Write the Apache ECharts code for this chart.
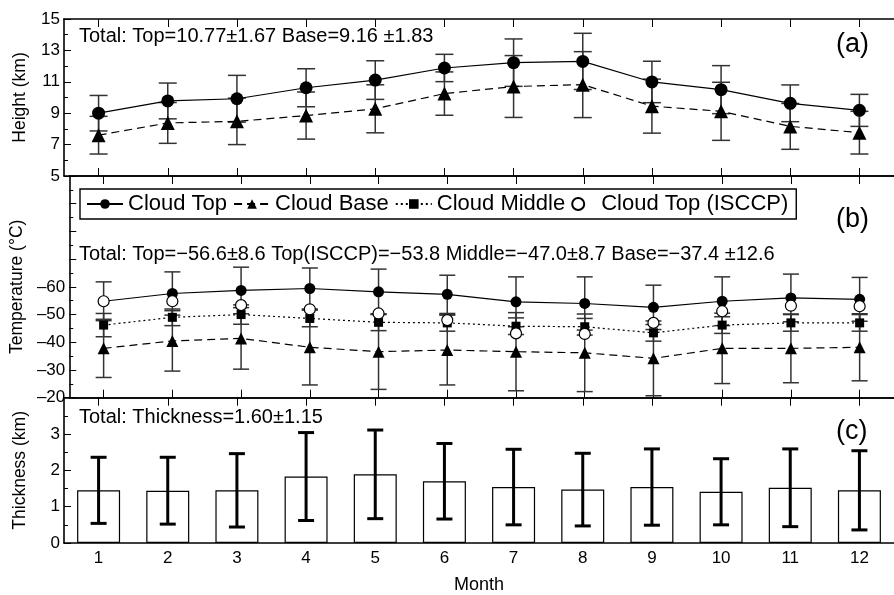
<!DOCTYPE html>
<html>
<head>
<meta charset="utf-8">
<style>
  html, body { margin: 0; padding: 0; background: #fff; }
  #main { width: 894px; height: 595px; }
</style>
<script src="https://cdn.jsdelivr.net/npm/echarts@6/dist/echarts.min.js"></script>
</head>
<body>
<div id="main"></div>
<script>
// months
var months = ["1", "2", "3", "4", "5", "6", "7", "8", "9", "10", "11", "12"];

// (a) height, km
var topH = [9.0, 9.78, 9.92, 10.62, 11.11, 11.88, 12.22, 12.3, 10.99, 10.5, 9.63, 9.18];
var topHErr = [1.13, 1.14, 1.49, 1.21, 1.23, 0.87, 1.51, 1.79, 1.32, 1.53, 1.17, 1.02];
var baseH = [7.6, 8.38, 8.48, 8.85, 9.28, 10.25, 10.7, 10.82, 9.45, 9.12, 8.16, 7.76];
var baseHErr = [1.2, 1.3, 1.48, 1.5, 1.53, 1.38, 1.97, 2.1, 1.72, 1.85, 1.46, 1.36];

// (b) temperature, °C
var topT = [-54.8, -57.6, -58.7, -59.4, -58.2, -57.3, -54.6, -54.0, -52.6, -54.8, -56.0, -55.5];
var topTErr = [7.0, 7.8, 8.4, 7.4, 8.2, 6.9, 9.0, 9.6, 8.0, 8.8, 8.6, 7.9];
var isccpT = [-54.8, -54.8, -53.4, -51.9, -50.4, -48.0, -43.2, -43.0, -47.0, -51.2, -53.2, -53.0];
var midT = [-46.2, -49.0, -50.0, -48.6, -47.2, -47.0, -45.8, -45.6, -43.4, -46.2, -47.0, -47.0];
var midTErr = [4.2, 3.0, 3.5, 3.0, 3.0, 3.0, 3.0, 3.0, 3.0, 3.0, 3.0, 3.0];
var baseT = [-37.8, -40.5, -41.4, -38.2, -36.6, -37.2, -36.6, -36.2, -34.2, -37.8, -37.8, -38.2];
var baseTErr = [10.5, 10.9, 11.1, 13.6, 13.6, 12.6, 14.1, 14.0, 13.5, 12.7, 12.4, 12.1];

// (c) thickness, km
var thick = [1.45, 1.44, 1.45, 1.83, 1.89, 1.70, 1.54, 1.47, 1.54, 1.41, 1.52, 1.45];
var thickErr = [0.91, 0.92, 1.01, 1.21, 1.22, 1.04, 1.04, 1.0, 1.05, 0.91, 1.07, 1.09];

var FONT = "'Liberation Sans', Arial, sans-serif";

var chart = echarts.init(document.getElementById("main"));

function errData(vals, errs) {
  return vals.map(function (v, i) {
    return [i, v - errs[i], v + errs[i]];
  });
}

// error bar with caps
function errSeries(data, xi, yi, capW, lw, color) {
  return {
    type: "custom",
    xAxisIndex: xi,
    yAxisIndex: yi,
    z: 1,
    silent: true,
    encode: { x: 0, y: [1, 2] },
    data: data,
    renderItem: function (params, api) {
      var lo = api.coord([api.value(0), api.value(1)]);
      var hi = api.coord([api.value(0), api.value(2)]);
      var h = capW / 2;
      var st = { stroke: color, lineWidth: lw };
      return {
        type: "group",
        children: [
          { type: "line", shape: { x1: lo[0], y1: lo[1], x2: hi[0], y2: hi[1] }, style: st },
          { type: "line", shape: { x1: lo[0] - h, y1: lo[1], x2: lo[0] + h, y2: lo[1] }, style: st },
          { type: "line", shape: { x1: hi[0] - h, y1: hi[1], x2: hi[0] + h, y2: hi[1] }, style: st }
        ]
      };
    }
  };
}

function xAx(gi, pos, showLabel) {
  return {
    type: "category",
    gridIndex: gi,
    position: pos,
    data: months,
    boundaryGap: true,
    axisLine: { show: true, lineStyle: { color: "#000", width: 1.6 } },
    axisTick: { show: true, inside: true, alignWithLabel: true, length: 8, lineStyle: { color: "#000", width: 1 } },
    axisLabel: { show: showLabel, color: "#000", fontSize: 17, fontFamily: FONT, margin: 7 },
    splitLine: { show: false }
  };
}

function yAx(gi, opt) {
  var base = {
    type: "value",
    gridIndex: gi,
    nameLocation: "middle",
    nameGap: 35,
    nameTextStyle: { color: "#000", fontSize: 17.5, fontFamily: FONT },
    axisLine: { show: true, lineStyle: { color: "#000", width: 1.6 } },
    axisTick: { show: true, inside: true, length: 7, lineStyle: { color: "#000", width: 1 } },
    minorTick: { show: true, splitNumber: 2, length: 4, lineStyle: { color: "#000", width: 1 } },
    axisLabel: { color: "#000", fontSize: 17, fontFamily: FONT, margin: 4 },
    splitLine: { show: false }
  };
  for (var k in opt) base[k] = opt[k];
  return base;
}

var lineW = 1.2;

var option = {
  animation: false,
  backgroundColor: "#fff",
  textStyle: { fontFamily: FONT },
  grid: [
    { left: 64, top: 19, width: 842, height: 157 },
    { left: 64, top: 176, width: 842, height: 221.7 },
    { left: 64, top: 397.7, width: 842, height: 157.6 }
  ],
  legend: {
    left: 80,
    top: 189,
    orient: "horizontal",
    data: ["Cloud Top", "Cloud Base", "Cloud Middle", "Cloud Top (ISCCP)"],
    itemWidth: 36,
    itemHeight: 12,
    itemGap: 6,
    padding: [4, 8, 4, 6],
    borderColor: "#000",
    borderWidth: 1.4,
    textStyle: { color: "#000", fontSize: 22, fontFamily: FONT }
  },
  xAxis: [
    xAx(0, "bottom", false),
    xAx(0, "top", false),
    xAx(1, "bottom", false),
    xAx(1, "top", false),
    Object.assign(xAx(2, "bottom", true), {
      name: "Month",
      nameLocation: "middle",
      nameGap: 33,
      nameTextStyle: { color: "#000", fontSize: 18, fontFamily: FONT }
    }),
    xAx(2, "top", false)
  ],
  yAxis: [
    yAx(0, { name: "Height (km)", min: 5, max: 15, interval: 2 }),
    yAx(1, {
      name: "Temperature (°C)",
      min: -100,
      max: -20,
      interval: 10,
      inverse: true,
      axisLabel: {
        color: "#000", fontSize: 17, fontFamily: FONT, margin: 4,
        formatter: function (v) { return v < -60 ? "" : "\u2013" + Math.abs(v); }
      }
    }),
    yAx(2, {
      name: "Thickness (km)",
      min: 0,
      max: 4,
      interval: 1,
      axisLabel: {
        color: "#000", fontSize: 17, fontFamily: FONT, margin: 4,
        formatter: function (v) { return v > 3 ? "" : String(v); }
      }
    })
  ],
  graphic: [
    { type: "text", left: 79, top: 26, style: { text: "Total: Top=10.77\u00b11.67 Base=9.16 \u00b11.83", font: "20px " + FONT, fill: "#000" } },
    { type: "text", left: 79, top: 244, style: { text: "Total: Top=\u221256.6\u00b18.6 Top(ISCCP)=\u221253.8 Middle=\u221247.0\u00b18.7 Base=\u221237.4 \u00b112.6", font: "20px " + FONT, fill: "#000" } },
    { type: "text", left: 79, top: 407, style: { text: "Total: Thickness=1.60\u00b11.15", font: "20px " + FONT, fill: "#000" } },
    { type: "text", left: 836, top: 31, style: { text: "(a)", font: "27px " + FONT, fill: "#000" } },
    { type: "text", left: 836, top: 206, style: { text: "(b)", font: "27px " + FONT, fill: "#000" } },
    { type: "text", left: 836, top: 418, style: { text: "(c)", font: "27px " + FONT, fill: "#000" } }
  ],
  series: [
    // (a)
    errSeries(errData(topH, topHErr), 0, 0, 18, 1.5, "#333"),
    errSeries(errData(baseH, baseHErr), 0, 0, 18, 1.5, "#333"),
    {
      name: "Cloud Top", type: "line", xAxisIndex: 0, yAxisIndex: 0, z: 2,
      data: topH, symbol: "circle", symbolSize: 13,
      itemStyle: { color: "#000" }, lineStyle: { color: "#000", width: lineW }
    },
    {
      name: "Cloud Base", type: "line", xAxisIndex: 0, yAxisIndex: 0, z: 2,
      data: baseH, symbol: "triangle", symbolSize: 14,
      itemStyle: { color: "#000" }, lineStyle: { color: "#000", width: lineW, type: [8, 5] }
    },
    // (b)
    errSeries(errData(topT, topTErr), 2, 1, 16, 1.5, "#333"),
    errSeries(errData(midT, midTErr), 2, 1, 16, 1.5, "#333"),
    errSeries(errData(baseT, baseTErr), 2, 1, 16, 1.5, "#333"),
    {
      name: "Cloud Top", type: "line", xAxisIndex: 2, yAxisIndex: 1, z: 2,
      data: topT, symbol: "circle", symbolSize: 11,
      itemStyle: { color: "#000" }, lineStyle: { color: "#000", width: lineW }
    },
    {
      name: "Cloud Base", type: "line", xAxisIndex: 2, yAxisIndex: 1, z: 2,
      data: baseT, symbol: "triangle", symbolSize: 12,
      itemStyle: { color: "#000" }, lineStyle: { color: "#000", width: lineW, type: [8, 5] }
    },
    {
      name: "Cloud Middle", type: "line", xAxisIndex: 2, yAxisIndex: 1, z: 2,
      data: midT, symbol: "rect", symbolSize: 9,
      itemStyle: { color: "#000" }, lineStyle: { color: "#000", width: lineW, type: [2, 3] }
    },
    {
      name: "Cloud Top (ISCCP)", type: "scatter", xAxisIndex: 2, yAxisIndex: 1, z: 3,
      data: isccpT, symbol: "circle", symbolSize: 11,
      itemStyle: { color: "#fff", borderColor: "#000", borderWidth: 1.2, opacity: 1 }
    },
    // (c)
    {
      name: "Thickness", type: "bar", xAxisIndex: 4, yAxisIndex: 2, z: 1,
      data: thick, barWidth: 43,
      itemStyle: { color: "#fff", borderColor: "#000", borderWidth: 1.2 }
    },
    Object.assign(errSeries(errData(thick, thickErr), 4, 2, 16, 3, "#000"), { z: 3 })
  ]
};

chart.setOption(option);
</script>
</body>
</html>
